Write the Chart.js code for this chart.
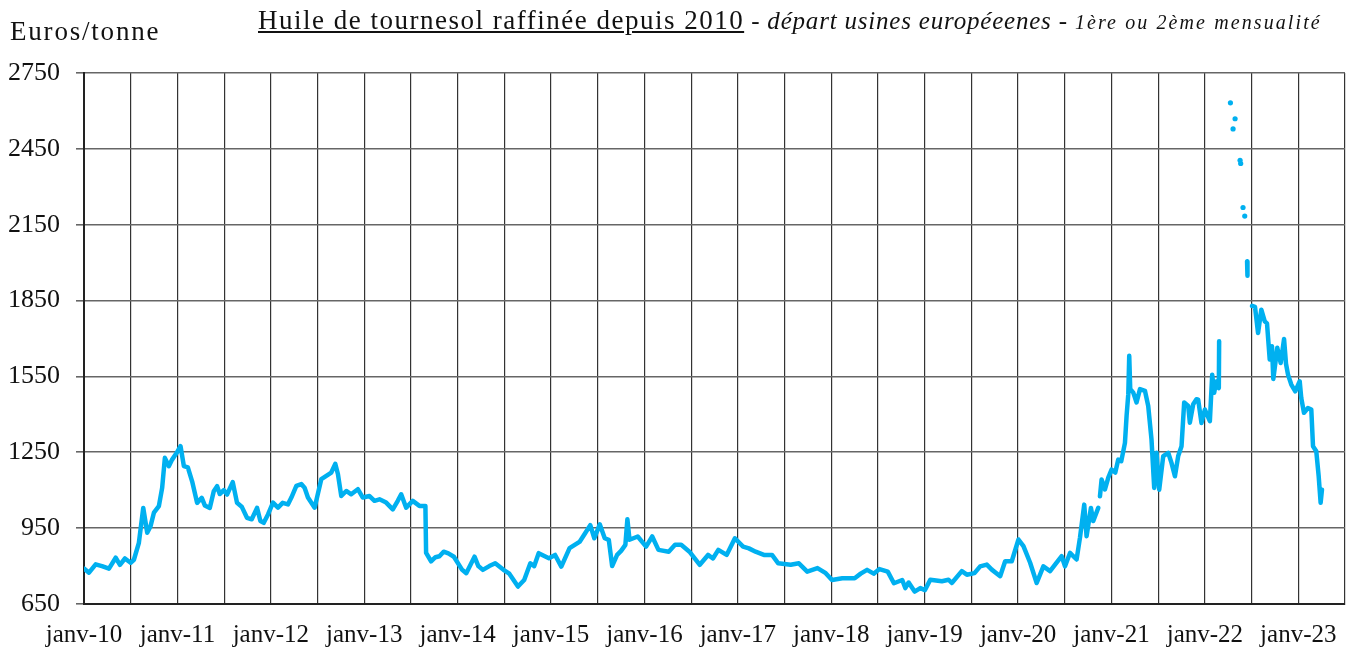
<!DOCTYPE html>
<html>
<head>
<meta charset="utf-8">
<script src="https://cdn.jsdelivr.net/npm/chart.js@4"></script>
<style>
    body { margin: 0; background: #fff; }
    #wrap { position: relative; width: 1349px; height: 651px; font-family: 'Liberation Serif', serif; color: #111; }
    #unit { position: absolute; left: 10px; top: 16px; font-size: 27px; letter-spacing: 1.8px; }
    #title { position: absolute; left: 258px; top: 5px; white-space: nowrap; }
    #title .main { font-size: 27px; letter-spacing: 1.5px; text-decoration: underline; }
    #title .sub { font-size: 25px; letter-spacing: 0.8px; font-style: italic; }
    #title .small { font-size: 20px; letter-spacing: 2.1px; font-style: italic; }
    canvas { position: absolute; left: 0; top: 0; }
</style>
</head>
<body>
<div id="wrap">
    <canvas id="priceChart" width="1349" height="651"></canvas>
    <div id="unit">Euros/tonne</div>
    <div id="title"><span class="main">Huile de tournesol raffinée depuis 2010</span><span class="sub"> - départ usines européeenes - </span><span class="small">1ère ou 2ème mensualité</span></div>
</div>
<script>
// x = mois écoulés depuis janv-10, y = euros/tonne (null = trou dans la série)
const months = [
    0.0, 0.64, 1.50, 2.31, 3.21, 4.07, 4.62, 5.26, 5.99, 6.41, 7.05, 7.61, 8.12, 8.55, 8.98, 9.62,
    10.04, 10.39, 10.90, 11.32, 11.89, 12.40, 12.83, 13.34, 13.89, 14.53, 15.13, 15.52, 16.16, 16.67,
    17.10, 17.44, 17.96, 18.38, 19.11, 19.66, 20.26, 20.94, 21.55, 22.23, 22.66, 23.09, 23.64, 24.28,
    24.92, 25.52, 26.20, 26.64, 27.28, 27.92, 28.34, 28.77, 29.63, 30.49, 31.13, 31.77, 32.28, 32.62,
    33.05, 33.69, 34.33, 35.18, 35.82, 36.68, 37.32, 37.96, 38.82, 39.67, 40.31, 40.75, 41.39, 42.23,
    43.09, 43.86, 43.95, 44.59, 45.15, 45.66, 46.20, 46.81, 47.52, 48.58, 49.11, 50.17, 50.66, 51.24,
    52.07, 52.83, 53.89, 54.64, 55.75, 56.55, 57.34, 57.84, 58.41, 59.73, 60.52, 61.32, 62.38, 63.70,
    64.38, 65.04, 65.56, 66.26, 66.90, 67.42, 67.85, 68.49, 69.00, 69.55, 69.81, 70.08, 71.14, 72.21,
    73.00, 73.80, 75.12, 75.93, 76.72, 77.78, 79.11, 80.17, 80.80, 81.49, 82.56, 83.62, 84.67, 85.42,
    86.28, 87.34, 88.39, 89.19, 90.78, 91.84, 92.91, 94.23, 95.29, 96.09, 97.42, 99.01, 99.78, 100.60,
    101.45, 102.19, 103.26, 104.05, 105.12, 105.51, 105.94, 106.71, 107.44, 108.04, 108.72, 110.21,
    111.07, 111.49, 112.77, 113.42, 114.40, 115.13, 115.98, 116.62, 117.70, 118.34, 119.19, 120.05,
    120.69, 121.55, 122.39, 123.25, 124.11, 124.75, 125.60, 126.03, 126.67, 127.52, 127.95, 128.50,
    128.80, 129.36, 129.66, 130.30, 130.40,
    130.52, 130.73, 131.16, 131.59, 132.01, 132.49, 132.87, 133.26, 133.73, 133.94, 134.16, 134.28,
    134.41, 134.80, 135.22, 135.66, 136.30, 136.72, 137.14, 137.49, 137.79, 138.13, 138.65, 139.29,
    139.71, 140.15, 140.57, 141.00, 141.34, 141.86, 142.07, 142.50, 142.92, 143.14, 143.56, 144.00,
    144.64, 144.94, 145.19, 145.45, 145.79, 145.83, 146.5,
    149.42, 149.47, 149.8,
    150.06, 150.44, 150.83, 151.25, 151.69, 151.98, 152.33, 152.62, 152.79, 153.30, 153.74, 154.17,
    154.42, 154.68, 155.10, 155.61, 156.18, 156.38, 156.73, 157.24, 157.67, 157.89, 158.31, 158.62,
    158.87, 159.04
];
const prices = [
    790, 774, 807, 800, 790, 833, 805, 830, 813, 825, 892, 1030, 932, 958, 1011, 1037,
    1109, 1228, 1195, 1221, 1247, 1274, 1195, 1190, 1135, 1050, 1070, 1040, 1030, 1096,
    1116, 1085, 1100, 1083, 1132, 1050, 1035, 991, 985, 1030, 978, 971, 1004, 1051,
    1031, 1050, 1044, 1071, 1117, 1124, 1110, 1071, 1031, 1144, 1157, 1170, 1204, 1164,
    1077, 1097, 1084, 1104, 1071, 1077, 1058, 1064, 1051, 1024, 1058, 1084, 1031, 1058,
    1038, 1038, 852, 819, 835, 839, 857, 850, 837, 785, 772, 837, 800, 785,
    800, 811, 785, 770, 719, 745, 811, 800, 851, 831, 844, 798, 871, 897,
    930, 962, 910, 965, 910, 904, 800, 844, 860, 884, 985, 904, 917, 877,
    917, 864, 857, 884, 884, 857, 805, 844, 830, 864, 844, 910, 877, 870,
    857, 844, 844, 811, 805, 811, 778, 792, 772, 745, 752, 752, 770, 785,
    770, 788, 778, 732, 745, 713, 735, 699, 713, 705, 746, 740,
    746, 733, 780, 766, 772, 799, 806, 786, 760, 819, 819, 905,
    879, 813, 733, 799, 780, 806, 839, 799, 852, 826, 912, 1043,
    918, 1030, 978, 1030, null,
    1076, 1142, 1103, 1150, 1182, 1170, 1221, 1215, 1287, 1394, 1480, 1632,
    1500, 1486, 1447, 1500, 1493, 1433, 1301, 1109, 1248, 1102, 1235, 1248,
    1208, 1155, 1235, 1274, 1447, 1433, 1367, 1440, 1460, 1458, 1366, 1419,
    1373, 1557, 1485, 1530, 1504, 1689, null,
    2005, 1948, null,
    1829, 1825, 1722, 1814, 1768, 1760, 1617, 1669, 1540, 1663, 1603, 1698,
    1600, 1557, 1518, 1491, 1531, 1465, 1406, 1425, 1419, 1274, 1254, 1155,
    1050, 1102
];
// cotations isolées du printemps 2022
const dotMonths = [147.28, 147.62, 147.88, 148.52, 148.60, 148.90, 149.12];
const dotPrices = [2632, 2529, 2569, 2405, 2392, 2218, 2184];

const yTicks = [650, 950, 1250, 1550, 1850, 2150, 2450, 2750];
const yearLabels = ['janv-10', 'janv-11', 'janv-12', 'janv-13', 'janv-14', 'janv-15', 'janv-16',
    'janv-17', 'janv-18', 'janv-19', 'janv-20', 'janv-21', 'janv-22', 'janv-23'];

const lineColor = '#00b0f0';
const serif = "'Liberation Serif', serif";

const lineData = months.map((m, i) => ({ x: m, y: prices[i] }));
const dotData = dotMonths.map((m, i) => ({ x: m, y: dotPrices[i] }));

new Chart(document.getElementById('priceChart'), {
    type: 'line',
    data: {
        datasets: [{
            data: lineData,
            borderColor: lineColor,
            borderWidth: 4.5,
            borderJoinStyle: 'round',
            borderCapStyle: 'round',
            pointRadius: 0,
            tension: 0,
            spanGaps: false
        }, {
            data: dotData,
            showLine: false,
            pointRadius: 2.6,
            pointBackgroundColor: lineColor,
            pointBorderWidth: 0
        }]
    },
    options: {
        responsive: false,
        animation: false,
        layout: { padding: { top: 73, right: 2 } },
        plugins: { legend: { display: false }, tooltip: { enabled: false } },
        scales: {
            x: {
                type: 'linear',
                min: 0,
                max: 162,
                afterFit: (scale) => {
                    scale.height = 47;
                    scale.paddingLeft = 0;
                    scale.paddingRight = 0;
                },
                afterBuildTicks: (scale) => {
                    scale.ticks = [];
                    for (let v = 0; v <= 162; v += 6) scale.ticks.push({ value: v });
                },
                ticks: {
                    autoSkip: false,
                    maxRotation: 0,
                    padding: 16,
                    color: '#111',
                    font: { family: serif, size: 25 },
                    callback: (v) => (v % 12 === 0 ? yearLabels[v / 12] : '')
                },
                grid: { color: '#333', lineWidth: 1.2, drawTicks: false },
                border: { color: '#222', width: 2 }
            },
            y: {
                min: 650,
                max: 2750,
                afterFit: (scale) => { scale.width = 84; },
                afterBuildTicks: (scale) => { scale.ticks = yTicks.map(v => ({ value: v })); },
                ticks: {
                    padding: 16,
                    color: '#111',
                    font: { family: serif, size: 26 },
                    callback: (v) => String(v)
                },
                grid: { color: '#666', lineWidth: 1.6, tickLength: 8 },
                border: { color: '#222', width: 2 }
            }
        }
    }
});
</script>
</body>
</html>
